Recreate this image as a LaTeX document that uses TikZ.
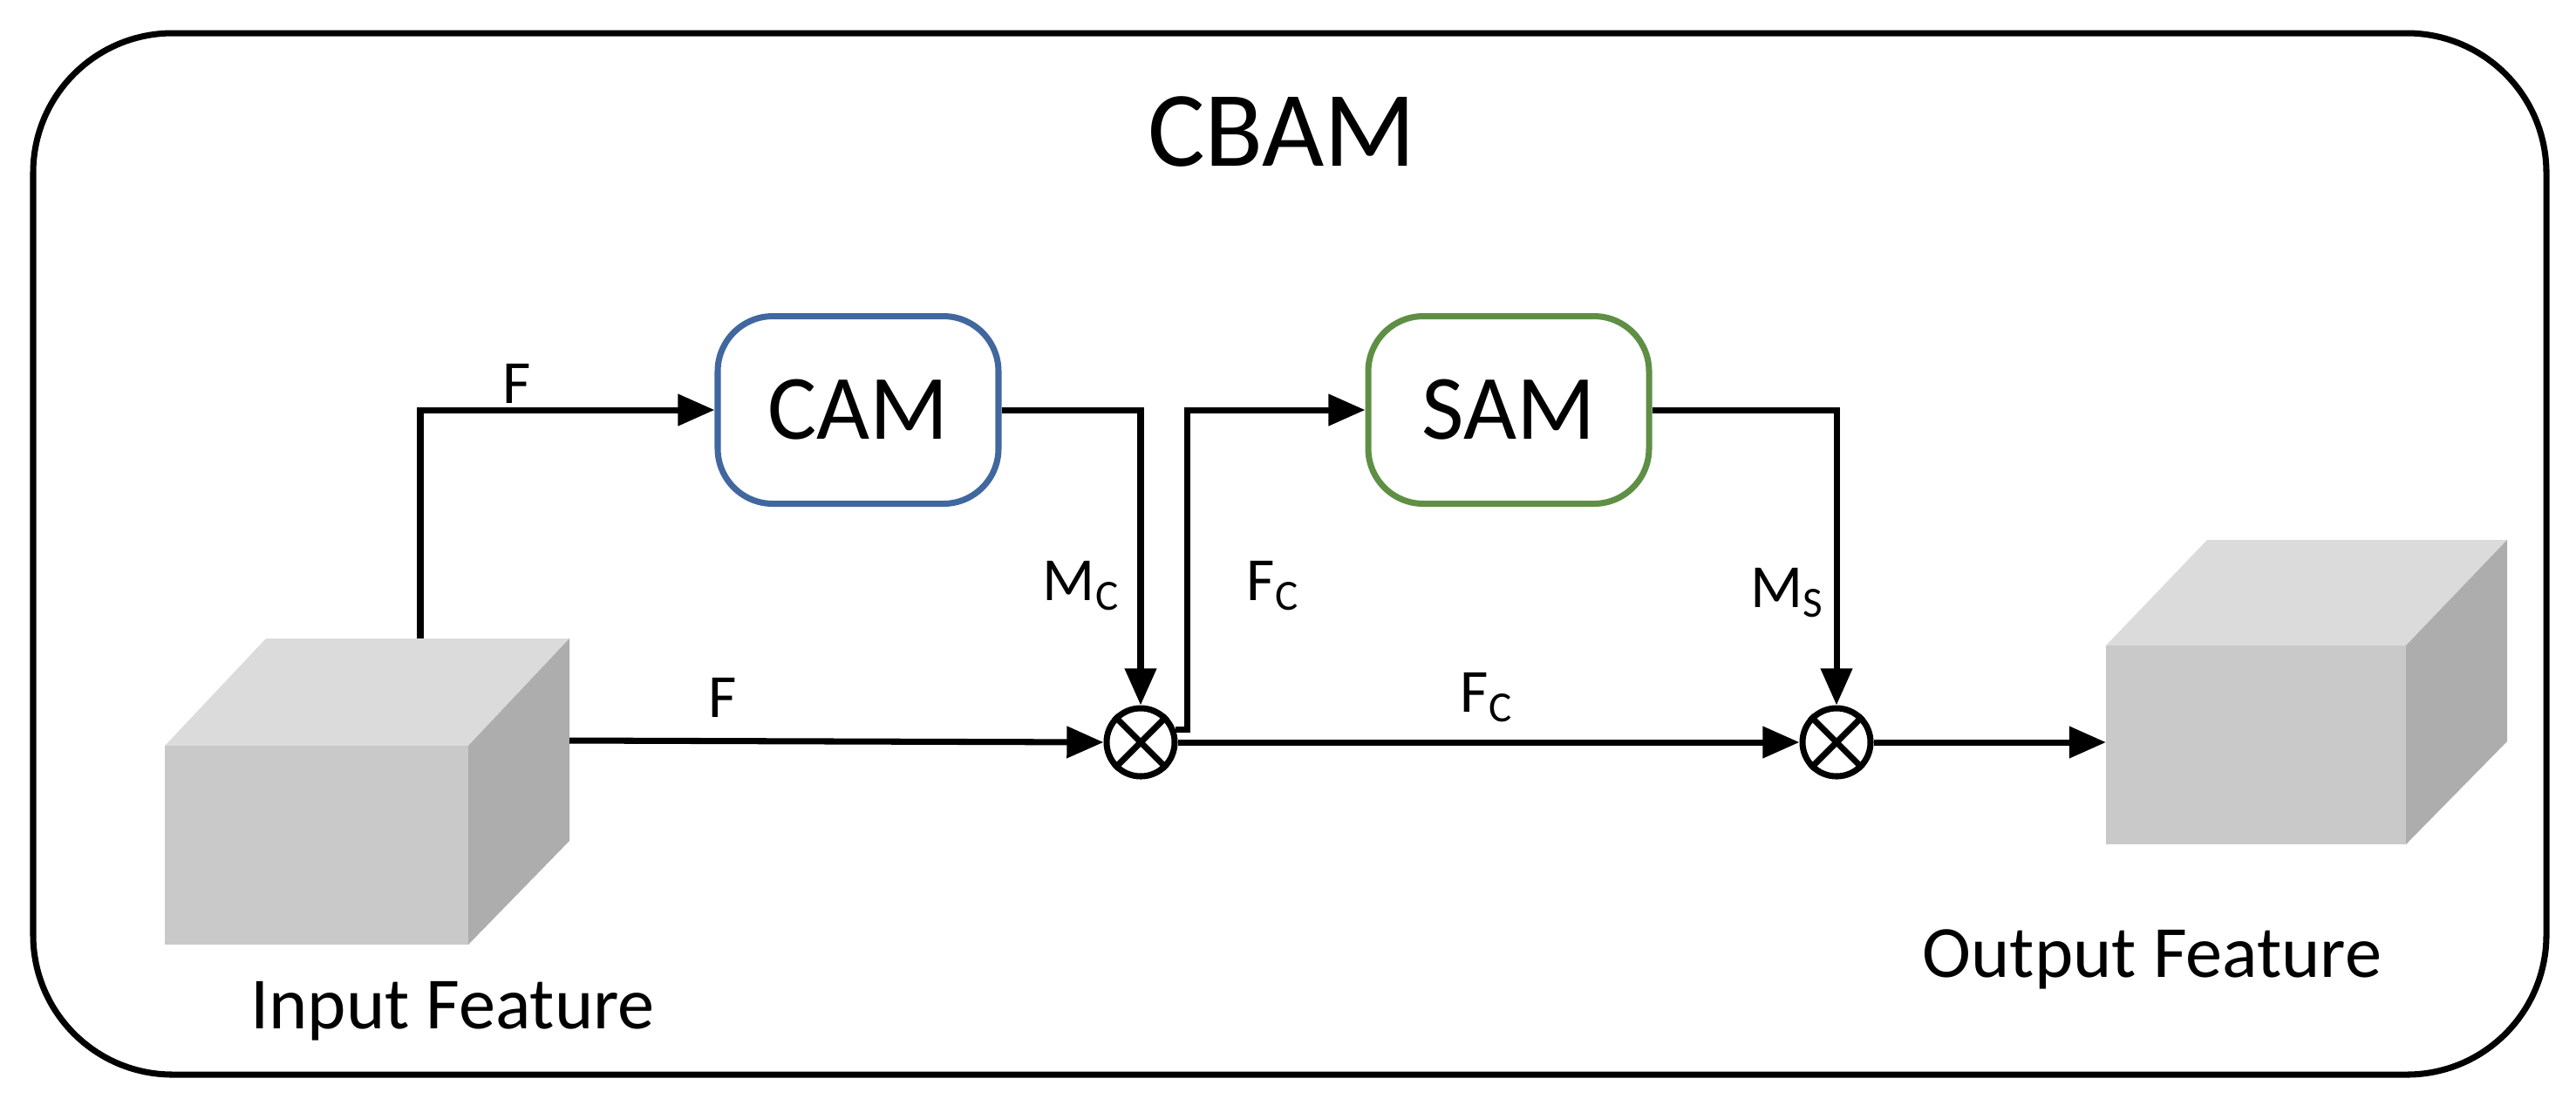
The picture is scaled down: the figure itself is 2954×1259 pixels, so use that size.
\documentclass[tikz,border=0pt]{standalone}
\usepackage{fontspec}
\setmainfont{Carlito}
\usetikzlibrary{arrows.meta}
\definecolor{camblue}{HTML}{41679F}
\definecolor{samgreen}{HTML}{5F8F45}
\begin{document}
\begin{tikzpicture}[x=0.01cm,y=-0.01cm,
  ln/.style={line width=2pt,-{Triangle[length=12pt,width=10pt]}},
  lab/.style={font=\fontsize{20}{20}\selectfont},
  mul/.style={circle,draw,line width=2pt,minimum size=78*0.01cm,inner sep=0pt},
  mod/.style={line width=2pt,rounded corners=18pt,minimum width=322*0.01cm,minimum height=215*0.01cm,font=\fontsize{30}{30}\selectfont}]
\useasboundingbox (0,0) rectangle (2954,1259);
\draw[line width=2pt,rounded corners=160*0.01cm] (38,38) rectangle (2920,1232);
\node[font=\fontsize{35}{35}\selectfont] (title) at (1470,151) {CBAM};
% input cube
\fill[black!14] (189,855) -- (305,732) -- (653,732) -- (537,855) -- cycle;
\fill[black!32] (537,855) -- (653,732) -- (653,964) -- (537,1083) -- cycle;
\fill[black!21] (189,855) rectangle (537,1083);
\coordinate (in) at (653,849);
\coordinate (intop) at (482,732);
% output cube
\fill[black!14] (2415,740) -- (2531,619) -- (2875,619) -- (2759,740) -- cycle;
\fill[black!32] (2759,740) -- (2875,619) -- (2875,850) -- (2759,968) -- cycle;
\fill[black!21] (2415,740) rectangle (2759,968);
\coordinate (out) at (2415,851);
\node[font=\fontsize{24}{24}\selectfont] (inl) at (519,1159) {Input Feature};
\node[font=\fontsize{24}{24}\selectfont] (outl) at (2468,1100) {Output Feature};
% modules
\node[mod,draw=camblue] (cam) at (984,470) {CAM};
\node[mod,draw=samgreen] (sam) at (1730,470) {SAM};
\node[mul] (m1) at (1308,851) {};
\node[mul] (m2) at (2106,851) {};
\draw[line width=2pt] (m1.north west) -- (m1.south east) (m1.north east) -- (m1.south west);
\draw[line width=2pt] (m2.north west) -- (m2.south east) (m2.north east) -- (m2.south west);
% connectors
\draw[ln] (intop) |- (cam.west);
\draw[ln] (cam.east) -| (m1.north);
\draw[ln] (in) -- (m1.west);
\draw[ln] (m1.east) -- (m2.west);
\draw[ln] (m1.20) -- ++(14,0) |- (sam.west);
\draw[ln] (sam.east) -| (m2.north);
\draw[ln] (m2.east) -- (out);
% labels
\node[lab] at (593,440) {F};
\node[lab] at (829,800) {F};
\node[lab] at (1240,672) {M\textsubscript{C}};
\node[lab] at (1460,672) {F\textsubscript{C}};
\node[lab] at (1705,800) {F\textsubscript{C}};
\node[lab] at (2050,680) {M\textsubscript{S}};
\end{tikzpicture}
\end{document}
